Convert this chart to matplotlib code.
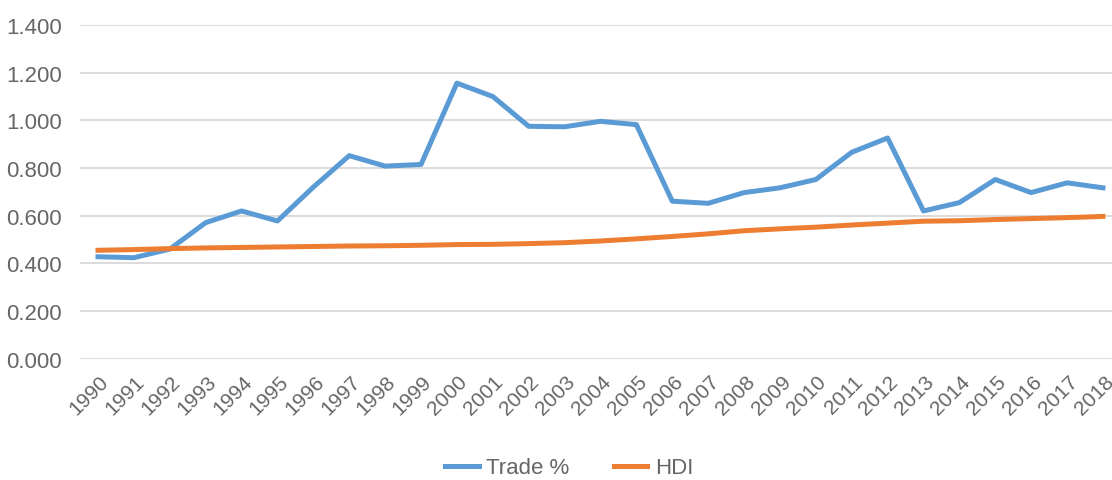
import numpy as np
import matplotlib
matplotlib.use("Agg")
import matplotlib.pyplot as plt
import matplotlib.transforms as mtransforms

plt.rcParams['font.family'] = ['Liberation Sans', 'DejaVu Sans']

years = [str(y) for y in range(1990, 2019)]

trade = [0.428, 0.424, 0.460, 0.571, 0.620, 0.578, 0.720, 0.852, 0.808, 0.815,
         1.156, 1.100, 0.975, 0.973, 0.996, 0.982, 0.661, 0.652, 0.697, 0.717,
         0.752, 0.866, 0.926, 0.620, 0.655, 0.752, 0.697, 0.738, 0.717]

hdi = [0.455, 0.458, 0.462, 0.465, 0.467, 0.469, 0.471, 0.473, 0.474, 0.476,
       0.479, 0.480, 0.483, 0.487, 0.494, 0.503, 0.513, 0.524, 0.537, 0.545,
       0.552, 0.561, 0.569, 0.577, 0.579, 0.584, 0.588, 0.592, 0.597]

yticks = [0.0, 0.2, 0.4, 0.6, 0.8, 1.0, 1.2, 1.4]

fig = plt.figure(figsize=(11.12, 4.81), dpi=100)
ax = fig.add_axes([0.072, 0.252, 0.936, 0.694])

x = np.arange(len(years))
ax.plot(x, trade, color='#5B9BD5', lw=3.6, label='Trade %', solid_joinstyle='round')
ax.plot(x, hdi, color='#ED7D31', lw=3.6, label='HDI', solid_joinstyle='round')

ax.set_xlim(-0.5, len(years) - 0.5)
ax.set_ylim(0, 1.4)
ax.set_yticks(yticks)
ax.set_yticklabels([f"{v:.3f}" for v in yticks])
ax.set_xticks(x)
ax.set_xticklabels(years, rotation=45, ha='right', rotation_mode='anchor')

ax.grid(axis='y', color='#D9D9D9', lw=1.3)
ax.set_axisbelow(True)
for s in ax.spines.values():
    s.set_visible(False)
ax.tick_params(axis='y', length=0, labelsize=16, colors='#666666', pad=13)
ax.tick_params(axis='x', length=0, labelsize=15, colors='#666666', pad=9)

# nudge the slanted year labels a little to the right
shift = mtransforms.ScaledTranslation(0.01, 0, fig.dpi_scale_trans)
for lab in ax.get_xticklabels():
    lab.set_transform(lab.get_transform() + shift)

fig.legend(loc='center', bbox_to_anchor=(0.512, 0.025), ncol=2, frameon=False,
           fontsize=16, labelcolor='#666666', handlelength=1.5, columnspacing=2.0,
           handletextpad=0.35)

fig.savefig('out.png', dpi=100)
